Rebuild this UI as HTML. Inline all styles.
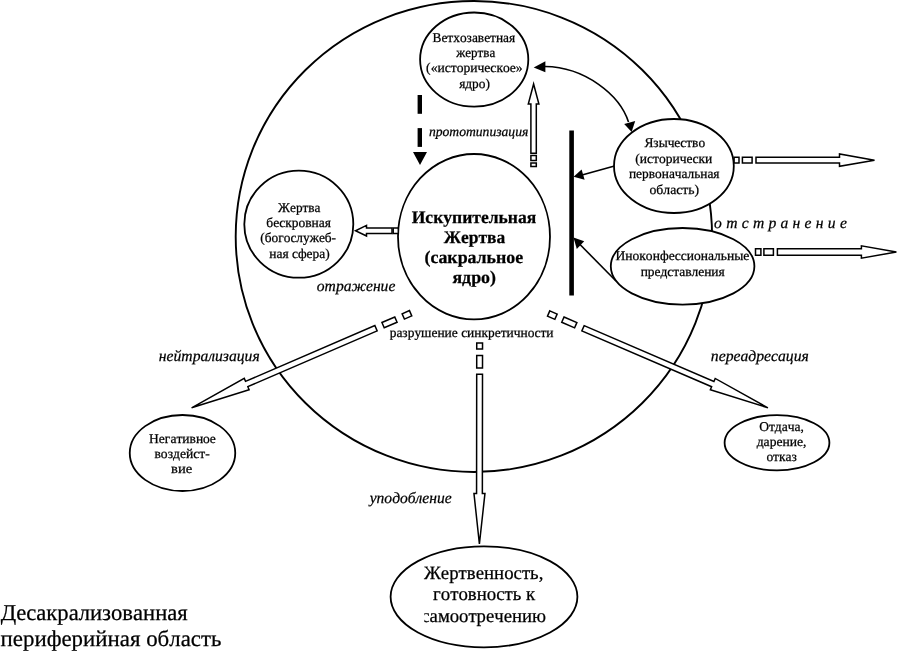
<!DOCTYPE html>
<html><head><meta charset="utf-8"><style>
html,body{margin:0;padding:0;background:#fff;width:897px;height:652px;overflow:hidden}
svg{display:block}
text{font-family:"Liberation Serif",serif;fill:#000;font-kerning:none;text-rendering:geometricPrecision;stroke:#000;stroke-width:0.25px}
svg{will-change:transform}
</style></head><body>
<svg width="897" height="652" viewBox="0 0 897 652">
<rect width="897" height="652" fill="#fff"/>
<ellipse cx="473.9" cy="236.5" rx="238.2" ry="235.5" fill="none" stroke="#000" stroke-width="1.9"/>
<ellipse cx="474.2" cy="59.6" rx="54.1" ry="47.1" fill="#fff" stroke="#000" stroke-width="1.8"/>
<ellipse cx="474" cy="236.7" rx="76" ry="82.7" fill="#fff" stroke="#000" stroke-width="1.8"/>
<ellipse cx="298.8" cy="224.2" rx="54.5" ry="53.5" fill="#fff" stroke="#000" stroke-width="1.8"/>
<ellipse cx="673.9" cy="166" rx="59.9" ry="47" fill="#fff" stroke="#000" stroke-width="1.8"/>
<ellipse cx="682.6" cy="266.3" rx="71.8" ry="38.3" fill="#fff" stroke="#000" stroke-width="1.8"/>
<ellipse cx="182.5" cy="453" rx="52.75" ry="38" fill="#fff" stroke="#000" stroke-width="1.8"/>
<ellipse cx="777" cy="442.8" rx="52.4" ry="27.6" fill="#fff" stroke="#000" stroke-width="1.8"/>
<ellipse cx="484" cy="596.8" rx="93.4" ry="50.5" fill="#fff" stroke="#000" stroke-width="1.8"/>
<rect x="569.3" y="130.5" width="4.6" height="165" fill="#000"/>
<rect x="417.6" y="95" width="4.4" height="18.8" fill="#000"/>
<rect x="417.6" y="128.1" width="4.4" height="18.8" fill="#000"/>
<polygon points="413,152 427,152 420,165" fill="#000"/>
<polygon points="530.90,153.20 530.90,104.00 528.30,104.00 533.60,84.00 538.90,104.00 536.30,104.00 536.30,153.20" fill="#fff" stroke="#000" stroke-width="1.5" stroke-linejoin="miter"/>
<polygon points="530.90,160.40 530.90,155.40 536.30,155.40 536.30,160.40" fill="#fff" stroke="#000" stroke-width="1.5" stroke-linejoin="miter"/>
<polygon points="530.90,166.50 530.90,163.10 536.30,163.10 536.30,166.50" fill="#fff" stroke="#000" stroke-width="1.5" stroke-linejoin="miter"/>
<path d="M545,66.5 C585,67 620,95 628.5,122" fill="none" stroke="#000" stroke-width="1.6"/>
<polygon points="533.7,67.5 545.4,61.2 545.4,72.3" fill="#000"/>
<polygon points="631.6,132 624.2,124 635.2,121" fill="#000"/>
<line x1="614.5" y1="166" x2="582" y2="175" stroke="#000" stroke-width="1.6"/>
<polygon points="573.6,176.8 581.6,169.4 584.6,179.8" fill="#000"/>
<line x1="616" y1="281" x2="579" y2="243.5" stroke="#000" stroke-width="1.6"/>
<polygon points="573.5,237.5 584.2,241.2 576.8,249" fill="#000"/>
<polygon points="756.00,157.20 839.50,157.20 839.50,154.00 874.50,160.15 839.50,166.30 839.50,163.10 756.00,163.10" fill="#fff" stroke="#000" stroke-width="1.5" stroke-linejoin="miter"/>
<polygon points="734.10,157.20 739.00,157.20 739.00,163.10 734.10,163.10" fill="#fff" stroke="#000" stroke-width="1.5" stroke-linejoin="miter"/>
<polygon points="742.40,157.20 752.10,157.20 752.10,163.10 742.40,163.10" fill="#fff" stroke="#000" stroke-width="1.5" stroke-linejoin="miter"/>
<polygon points="777.40,248.70 861.40,248.70 861.40,245.80 896.40,252.00 861.40,258.20 861.40,255.30 777.40,255.30" fill="#fff" stroke="#000" stroke-width="1.5" stroke-linejoin="miter"/>
<polygon points="755.50,248.70 760.90,248.70 760.90,255.30 755.50,255.30" fill="#fff" stroke="#000" stroke-width="1.5" stroke-linejoin="miter"/>
<polygon points="763.90,248.70 773.40,248.70 773.40,255.30 763.90,255.30" fill="#fff" stroke="#000" stroke-width="1.5" stroke-linejoin="miter"/>
<polygon points="392.00,233.50 366.50,233.50 366.50,236.00 355.50,230.70 366.50,225.40 366.50,227.90 392.00,227.90" fill="#fff" stroke="#000" stroke-width="1.5" stroke-linejoin="miter"/>
<polygon points="398.30,233.50 393.20,233.50 393.20,227.90 398.30,227.90" fill="#fff" stroke="#000" stroke-width="1.5" stroke-linejoin="miter"/>
<polygon points="377.15,330.86 247.84,386.68 249.12,389.67 191.60,407.80 244.25,378.37 245.54,381.36 374.85,325.54" fill="#fff" stroke="#000" stroke-width="1.5" stroke-linejoin="miter"/>
<polygon points="397.07,322.26 384.22,327.81 381.92,322.49 394.77,316.94" fill="#fff" stroke="#000" stroke-width="1.5" stroke-linejoin="miter"/>
<polygon points="411.76,315.92 404.42,319.09 402.12,313.77 409.46,310.60" fill="#fff" stroke="#000" stroke-width="1.5" stroke-linejoin="miter"/>
<polygon points="584.15,325.64 713.92,381.44 715.21,378.45 767.90,407.80 710.35,389.75 711.63,386.76 581.85,330.96" fill="#fff" stroke="#000" stroke-width="1.5" stroke-linejoin="miter"/>
<polygon points="564.03,316.99 576.89,322.52 574.60,327.84 561.74,322.31" fill="#fff" stroke="#000" stroke-width="1.5" stroke-linejoin="miter"/>
<polygon points="549.79,310.86 557.14,314.02 554.85,319.35 547.50,316.19" fill="#fff" stroke="#000" stroke-width="1.5" stroke-linejoin="miter"/>
<polygon points="482.50,374.20 482.36,493.40 484.96,493.41 479.40,544.00 473.96,493.39 476.56,493.40 476.70,374.20" fill="#fff" stroke="#000" stroke-width="1.5" stroke-linejoin="miter"/>
<polygon points="482.52,355.40 482.51,368.10 476.71,368.10 476.72,355.40" fill="#fff" stroke="#000" stroke-width="1.5" stroke-linejoin="miter"/>
<polygon points="482.54,343.00 482.53,349.00 476.73,349.00 476.74,343.00" fill="#fff" stroke="#000" stroke-width="1.5" stroke-linejoin="miter"/>
<text x="432.51" y="41.9" font-size="13.45" font-weight="normal" textLength="82.73" lengthAdjust="spacingAndGlyphs">Ветхозаветная</text>
<text x="456.25" y="56.6" font-size="13.45" font-weight="normal" textLength="38.93" lengthAdjust="spacingAndGlyphs">жертва</text>
<text x="426.11" y="72.2" font-size="13.45" font-weight="normal" textLength="96.47" lengthAdjust="spacingAndGlyphs">(«историческое»</text>
<text x="459.16" y="87.8" font-size="13.45" font-weight="normal" textLength="30.73" lengthAdjust="spacingAndGlyphs">ядро)</text>
<text x="278.10" y="212" font-size="13.45" font-weight="normal" textLength="42.38" lengthAdjust="spacingAndGlyphs">Жертва</text>
<text x="266.37" y="227.2" font-size="13.45" font-weight="normal" textLength="64.57" lengthAdjust="spacingAndGlyphs">бескровная</text>
<text x="260.31" y="242.3" font-size="13.45" font-weight="normal" textLength="75.77" lengthAdjust="spacingAndGlyphs">(богослужеб-</text>
<text x="269.26" y="257.8" font-size="13.45" font-weight="normal" textLength="60.43" lengthAdjust="spacingAndGlyphs">ная сфера)</text>
<text x="644.45" y="147.4" font-size="13.45" font-weight="normal" textLength="60.66" lengthAdjust="spacingAndGlyphs">Язычество</text>
<text x="635.31" y="162.9" font-size="13.45" font-weight="normal" textLength="77.01" lengthAdjust="spacingAndGlyphs">(исторически</text>
<text x="628.96" y="177.8" font-size="13.45" font-weight="normal" textLength="90.58" lengthAdjust="spacingAndGlyphs">первоначальная</text>
<text x="649.49" y="193.8" font-size="13.45" font-weight="normal" textLength="49.62" lengthAdjust="spacingAndGlyphs">область)</text>
<text x="615.51" y="260.1" font-size="13.45" font-weight="normal" textLength="133.76" lengthAdjust="spacingAndGlyphs">Иноконфессиональные</text>
<text x="640.66" y="276" font-size="13.45" font-weight="normal" textLength="84.09" lengthAdjust="spacingAndGlyphs">представления</text>
<text x="149.11" y="442.5" font-size="13.45" font-weight="normal" textLength="66.76" lengthAdjust="spacingAndGlyphs">Негативное</text>
<text x="154.46" y="457.7" font-size="13.45" font-weight="normal" textLength="55.24" lengthAdjust="spacingAndGlyphs">воздейст-</text>
<text x="171.06" y="473.3" font-size="13.45" font-weight="normal" textLength="21.17" lengthAdjust="spacingAndGlyphs">вие</text>
<text x="759.15" y="430.6" font-size="13.45" font-weight="normal" textLength="44.81" lengthAdjust="spacingAndGlyphs">Отдача,</text>
<text x="756.70" y="446.2" font-size="13.45" font-weight="normal" textLength="49.76" lengthAdjust="spacingAndGlyphs">дарение,</text>
<text x="766.39" y="461.4" font-size="13.45" font-weight="normal" textLength="30.47" lengthAdjust="spacingAndGlyphs">отказ</text>
<text x="424.00" y="578.7" font-size="18.83" font-weight="normal" textLength="119.38" lengthAdjust="spacingAndGlyphs">Жертвенность,</text>
<text x="433.06" y="600.3" font-size="18.83" font-weight="normal" textLength="102.12" lengthAdjust="spacingAndGlyphs">готовность к</text>
<text x="421.28" y="622.1" font-size="18.83" font-weight="normal" textLength="124.73" lengthAdjust="spacingAndGlyphs">самоотречению</text>
<text x="389.68" y="337.2" font-size="13.45" font-weight="normal" textLength="163.83" lengthAdjust="spacingAndGlyphs">разрушение синкретичности</text>
<text x="0.84" y="620.3" font-size="22.7" font-weight="normal" textLength="186.86" lengthAdjust="spacingAndGlyphs">Десакрализованная</text>
<text x="0.59" y="646.4" font-size="22.7" font-weight="normal" textLength="220.81" lengthAdjust="spacingAndGlyphs">периферийная область</text>
<text x="411.70" y="223.1" font-size="17.7" font-weight="bold" textLength="124.56" lengthAdjust="spacingAndGlyphs">Искупительная</text>
<text x="443.67" y="242.9" font-size="17.7" font-weight="bold" textLength="61.50" lengthAdjust="spacingAndGlyphs">Жертва</text>
<text x="424.52" y="263.2" font-size="17.7" font-weight="bold" textLength="98.75" lengthAdjust="spacingAndGlyphs">(сакральное</text>
<text x="452.42" y="282.7" font-size="17.7" font-weight="bold" textLength="43.57" lengthAdjust="spacingAndGlyphs">ядро)</text>
<text x="428.92" y="136" font-size="13.6" font-weight="normal" font-style="italic" textLength="99.38" lengthAdjust="spacingAndGlyphs">прототипизация</text>
<text x="316.84" y="291" font-size="15.6" font-weight="normal" font-style="italic" textLength="78.51" lengthAdjust="spacingAndGlyphs">отражение</text>
<text x="158.87" y="361.4" font-size="15.6" font-weight="normal" font-style="italic" textLength="100.81" lengthAdjust="spacingAndGlyphs">нейтрализация</text>
<text x="710.84" y="361.3" font-size="15.6" font-weight="normal" font-style="italic" textLength="97.95" lengthAdjust="spacingAndGlyphs">переадресация</text>
<text x="369.70" y="502.7" font-size="15.6" font-weight="normal" font-style="italic" textLength="81.95" lengthAdjust="spacingAndGlyphs">уподобление</text>
<text x="714.1" y="227.8" font-size="15.6" font-style="italic" letter-spacing="4.28">отстранение</text>
<rect x="417" y="607" width="7.2" height="18" fill="#fff"/>
</svg></body></html>
